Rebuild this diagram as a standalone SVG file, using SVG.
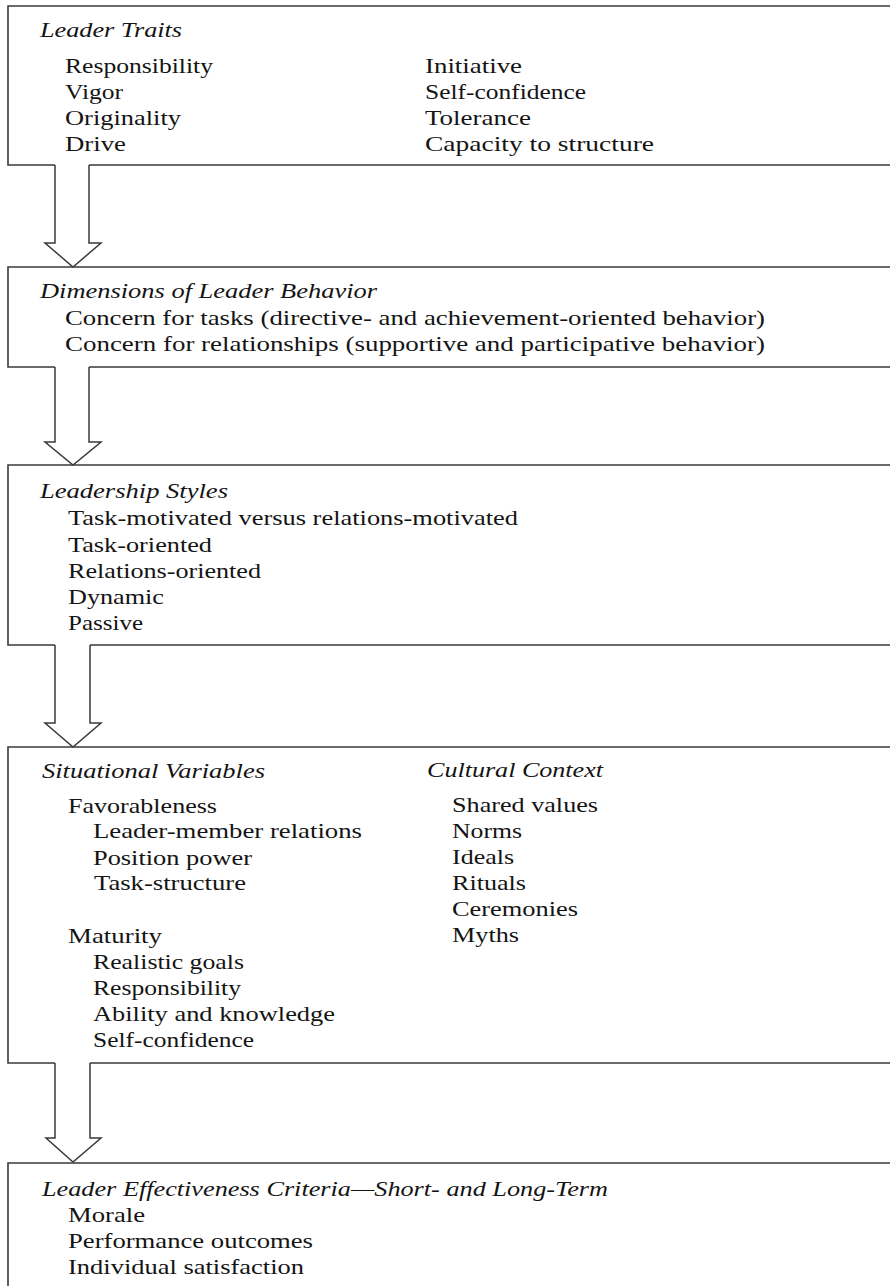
<svg xmlns="http://www.w3.org/2000/svg" width="890" height="1286" viewBox="0 0 890 1286">
<style>
.box{fill:none;stroke:#3a3a3a;stroke-width:1.6}
.arr{fill:none;stroke:#3a3a3a;stroke-width:1.5;stroke-linejoin:miter}
text{font-family:"Liberation Serif","Times New Roman",serif;font-size:22px;fill:#141414}
.h{font-style:italic}
</style>
<rect x="0" y="0" width="890" height="1286" fill="#ffffff"/>
<g id="connectors">
<path class="arr" d="M55 165 V243 H45 L73 267 L101 243 H89 V165"/>
<path class="arr" d="M55 367 V442 H45 L73 465 L101 442 H89 V367"/>
<path class="arr" d="M55 645 V723 H45 L73 747 L101 723 H90 V645"/>
<path class="arr" d="M55 1063 V1138 H46 L73 1162 L101 1138 H90 V1063"/>
</g>
<g id="leader-traits">
<path class="box" d="M895 6 H8 V165 H55 M89 165 H895"/>
<text class="h" x="40" y="37" textLength="142" lengthAdjust="spacingAndGlyphs">Leader Traits</text>
<text x="65" y="73" textLength="148" lengthAdjust="spacingAndGlyphs">Responsibility</text>
<text x="65" y="99" textLength="58" lengthAdjust="spacingAndGlyphs">Vigor</text>
<text x="65" y="125" textLength="116" lengthAdjust="spacingAndGlyphs">Originality</text>
<text x="65" y="151" textLength="61" lengthAdjust="spacingAndGlyphs">Drive</text>
<text x="425" y="73" textLength="97" lengthAdjust="spacingAndGlyphs">Initiative</text>
<text x="425" y="99" textLength="161" lengthAdjust="spacingAndGlyphs">Self-confidence</text>
<text x="425" y="125" textLength="106" lengthAdjust="spacingAndGlyphs">Tolerance</text>
<text x="425" y="151" textLength="229" lengthAdjust="spacingAndGlyphs">Capacity to structure</text>
</g>
<g id="leader-behavior">
<path class="box" d="M895 267 H8 V367 H55 M89 367 H895"/>
<text class="h" x="40" y="298" textLength="337" lengthAdjust="spacingAndGlyphs">Dimensions of Leader Behavior</text>
<text x="65" y="325" textLength="700" lengthAdjust="spacingAndGlyphs">Concern for tasks (directive- and achievement-oriented behavior)</text>
<text x="65" y="351" textLength="700" lengthAdjust="spacingAndGlyphs">Concern for relationships (supportive and participative behavior)</text>
</g>
<g id="leadership-styles">
<path class="box" d="M895 465 H8 V645 H55 M90 645 H895"/>
<text class="h" x="40" y="498" textLength="188" lengthAdjust="spacingAndGlyphs">Leadership Styles</text>
<text x="68" y="525" textLength="450" lengthAdjust="spacingAndGlyphs">Task-motivated versus relations-motivated</text>
<text x="68" y="552" textLength="144" lengthAdjust="spacingAndGlyphs">Task-oriented</text>
<text x="68" y="578" textLength="193" lengthAdjust="spacingAndGlyphs">Relations-oriented</text>
<text x="68" y="604" textLength="96" lengthAdjust="spacingAndGlyphs">Dynamic</text>
<text x="68" y="630" textLength="75" lengthAdjust="spacingAndGlyphs">Passive</text>
</g>
<g id="situational-cultural">
<path class="box" d="M895 747 H8 V1063 H55 M90 1063 H895"/>
<text class="h" x="42" y="778" textLength="223" lengthAdjust="spacingAndGlyphs">Situational Variables</text>
<text x="68" y="813" textLength="149" lengthAdjust="spacingAndGlyphs">Favorableness</text>
<text x="93" y="838" textLength="269" lengthAdjust="spacingAndGlyphs">Leader-member relations</text>
<text x="93" y="865" textLength="159" lengthAdjust="spacingAndGlyphs">Position power</text>
<text x="94" y="890" textLength="152" lengthAdjust="spacingAndGlyphs">Task-structure</text>
<text x="68" y="943" textLength="94" lengthAdjust="spacingAndGlyphs">Maturity</text>
<text x="93" y="969" textLength="151" lengthAdjust="spacingAndGlyphs">Realistic goals</text>
<text x="93" y="995" textLength="148" lengthAdjust="spacingAndGlyphs">Responsibility</text>
<text x="93" y="1021" textLength="242" lengthAdjust="spacingAndGlyphs">Ability and knowledge</text>
<text x="93" y="1047" textLength="161" lengthAdjust="spacingAndGlyphs">Self-confidence</text>
<text class="h" x="427" y="777" textLength="176" lengthAdjust="spacingAndGlyphs">Cultural Context</text>
<text x="452" y="812" textLength="146" lengthAdjust="spacingAndGlyphs">Shared values</text>
<text x="452" y="838" textLength="70" lengthAdjust="spacingAndGlyphs">Norms</text>
<text x="452" y="864" textLength="62" lengthAdjust="spacingAndGlyphs">Ideals</text>
<text x="452" y="890" textLength="74" lengthAdjust="spacingAndGlyphs">Rituals</text>
<text x="452" y="916" textLength="126" lengthAdjust="spacingAndGlyphs">Ceremonies</text>
<text x="452" y="942" textLength="67" lengthAdjust="spacingAndGlyphs">Myths</text>
</g>
<g id="effectiveness-criteria">
<path class="box" d="M895 1163 H8 V1295"/>
<text class="h" x="42" y="1196" textLength="566" lengthAdjust="spacingAndGlyphs">Leader Effectiveness Criteria—Short- and Long-Term</text>
<text x="68" y="1222" textLength="77" lengthAdjust="spacingAndGlyphs">Morale</text>
<text x="68" y="1248" textLength="245" lengthAdjust="spacingAndGlyphs">Performance outcomes</text>
<text x="68" y="1274" textLength="236" lengthAdjust="spacingAndGlyphs">Individual satisfaction</text>
</g>
</svg>
